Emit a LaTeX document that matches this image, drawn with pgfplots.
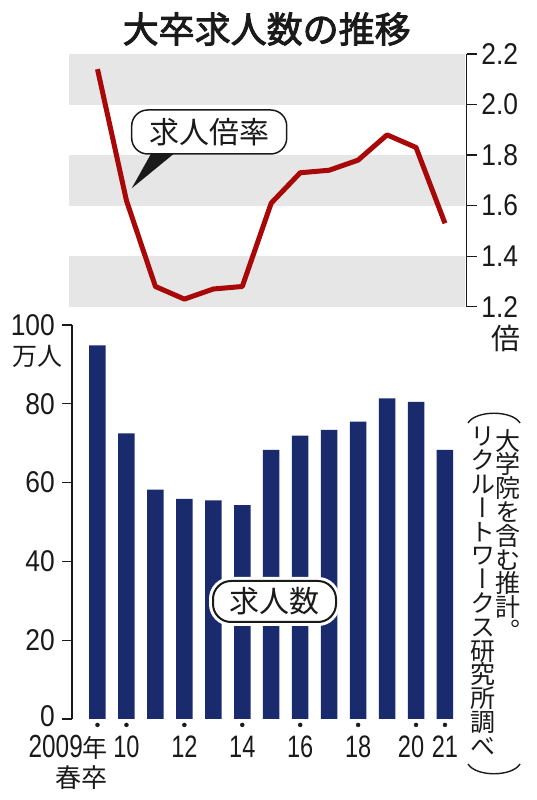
\documentclass[border=0pt]{standalone}
\usepackage{pgfplots}
\pgfplotsset{compat=1.18}
\usepackage{fontspec}
\setmainfont{Liberation Sans}
\newfontfamily\numf[FakeStretch=0.88]{Liberation Sans}
\newfontfamily\numx[FakeStretch=0.76]{Liberation Sans}
\newfontfamily\jp{Noto Sans CJK JP}
\newfontfamily\jpbold[FakeBold=2.4]{Noto Sans CJK JP}
\newfontfamily\jpv[RawFeature=+vert]{Noto Sans CJK JP}
\definecolor{navy}{HTML}{1A2B6D}
\definecolor{linered}{HTML}{A80808}
\definecolor{bandgray}{HTML}{E6E6E6}
\definecolor{ink}{HTML}{1A1A1A}
\begin{document}
\begin{tikzpicture}
\path[use as bounding box] (0pt,0pt) rectangle (536pt,800pt);

% ---------------- lower panel: number of job offers (10,000 persons)
\begin{axis}[
  at={(72pt,81pt)}, anchor=south west, scale only axis,
  width=394.7pt, height=394pt,
  xmin=2008.12, xmax=2021.75, ymin=0, ymax=100,
  axis lines=left, axis line style={-, ink, line width=1.2pt},
  x axis line style={draw=none},
  tick align=outside, major tick length=10pt,
  xtick style={draw=none},
  ytick style={ink, line width=1.2pt},
  ytick={0,20,40,60,80,100},
  yticklabels={\raisebox{6pt}{0},20,40,60,80,100},
  xtick={2010,2012,2014,2016,2018,2020,2021},
  xticklabels={10,12,14,16,18,\hspace*{-10pt}20,21},
  yticklabel style={font=\numf\fontsize{30}{30}\selectfont, inner sep=0pt, xshift=-7pt, text=ink},
  xticklabel style={font=\numx\fontsize{31}{31}\selectfont, inner sep=0pt, anchor=base, yshift=-28pt, text=ink},
  clip=false,
]
\addplot[ybar, bar width=16.5pt, fill=navy, draw=none] coordinates {
 (2009,94.8) (2010,72.5) (2011,58.2) (2012,55.9) (2013,55.5) (2014,54.3)
 (2015,68.3) (2016,71.9) (2017,73.4) (2018,75.5) (2019,81.4) (2020,80.5) (2021,68.3)};
\addplot[only marks, mark=*, mark size=2pt, ink] coordinates {
 (2009,-1.5) (2010,-1.5) (2012,-1.5) (2014,-1.5) (2016,-1.5) (2018,-1.5) (2020,-1.5) (2021,-1.5)};
\end{axis}

% ---------------- upper panel: job-offer ratio
\begin{axis}[
  at={(69pt,493.3pt)}, anchor=south west, scale only axis,
  width=397.7pt, height=252.7pt,
  xmin=2008.016, xmax=2021.75, ymin=1.2, ymax=2.2,
  axis y line=right, axis x line=none,
  axis line style={-, ink, line width=1.2pt},
  tick align=outside, major tick length=10.5pt,
  ytick style={ink, line width=1.2pt},
  ytick={1.2,1.4,1.6,1.8,2.0,2.2},
  yticklabels={1.2,1.4,1.6,1.8,2.0,2.2},
  yticklabel style={font=\numf\fontsize{30}{30}\selectfont, inner sep=0pt, xshift=4pt, anchor=west, text=ink},
  clip=false,
]
\fill[bandgray] (axis cs:2008.016,1.2) rectangle (axis cs:2021.70,1.4);
\fill[bandgray] (axis cs:2008.016,1.6) rectangle (axis cs:2021.70,1.8);
\fill[bandgray] (axis cs:2008.016,2.0) rectangle (axis cs:2021.70,2.2);
\addplot[linered, line width=5pt, line join=round, line cap=butt] coordinates {
 (2009,2.14) (2010,1.62) (2011,1.28) (2012,1.23) (2013,1.27) (2014,1.28)
 (2015,1.61) (2016,1.73) (2017,1.74) (2018,1.78) (2019,1.88) (2020,1.83) (2021,1.53)};
\end{axis}

% ---------------- title
\node[font=\jpbold\fontsize{36}{36}\selectfont, text=ink, inner sep=0] at (266.7pt,771pt) {大卒求人数の推移};

% ---------------- callout: 求人倍率
\fill[ink] (152pt,648pt) -- (176pt,648pt) -- (131.7pt,611.7pt) -- cycle;
\node[draw=ink, line width=1.5pt, fill=white, rounded corners=16pt,
      minimum width=155pt, minimum height=44pt, inner sep=0,
      font=\jp\fontsize{30}{30}\selectfont, text=ink] at (209.2pt,668pt) {求人倍率};

% ---------------- label: 求人数
\node[draw=ink, line width=2pt, fill=white, rounded corners=18pt,
      preaction={draw=white, line width=8pt},
      minimum width=123pt, minimum height=41pt, inner sep=0,
      font=\jp\fontsize{30}{30}\selectfont, text=ink] at (274.5pt,198.5pt) {求人数};

% ---------------- units
\node[font=\jp\fontsize{25}{25}\selectfont, text=ink, inner sep=0] at (37.5pt,443.5pt) {万人};
\node[font=\jp\fontsize{29}{29}\selectfont, text=ink, inner sep=0] at (506pt,461pt) {倍};

% ---------------- x label for first year
\node[anchor=base east, inner sep=0, text=ink] at (108pt,42pt)
  {{\numx\fontsize{32}{32}\selectfont 2009}{\jp\fontsize{25}{25}\selectfont 年}};
\node[font=\jp\fontsize{26}{26}\selectfont, text=ink, inner sep=0] at (81.5pt,22pt) {春卒};

% ---------------- vertical source note
\node[anchor=north, align=center, inner sep=0, text=ink,
      font=\jpv\fontsize{25}{23.8}\selectfont] at (507.5pt,371pt)
  {大\\学\\院\\を\\含\\む\\推\\計\\。};
\node[anchor=north, align=center, inner sep=0, text=ink,
      font=\jpv\fontsize{25}{23.8}\selectfont] at (482.5pt,373pt)
  {リ\\ク\\ル\\ー\\ト\\ワ\\ー\\ク\\ス\\研\\究\\所\\調\\べ};
\draw[ink, line width=1.4pt] (468pt,377pt) .. controls (476pt,390pt) and (512pt,390pt) .. (520pt,377pt);
\draw[ink, line width=1.4pt] (468pt,36pt) .. controls (476pt,23pt) and (512pt,23pt) .. (520pt,36pt);
\end{tikzpicture}
\end{document}
